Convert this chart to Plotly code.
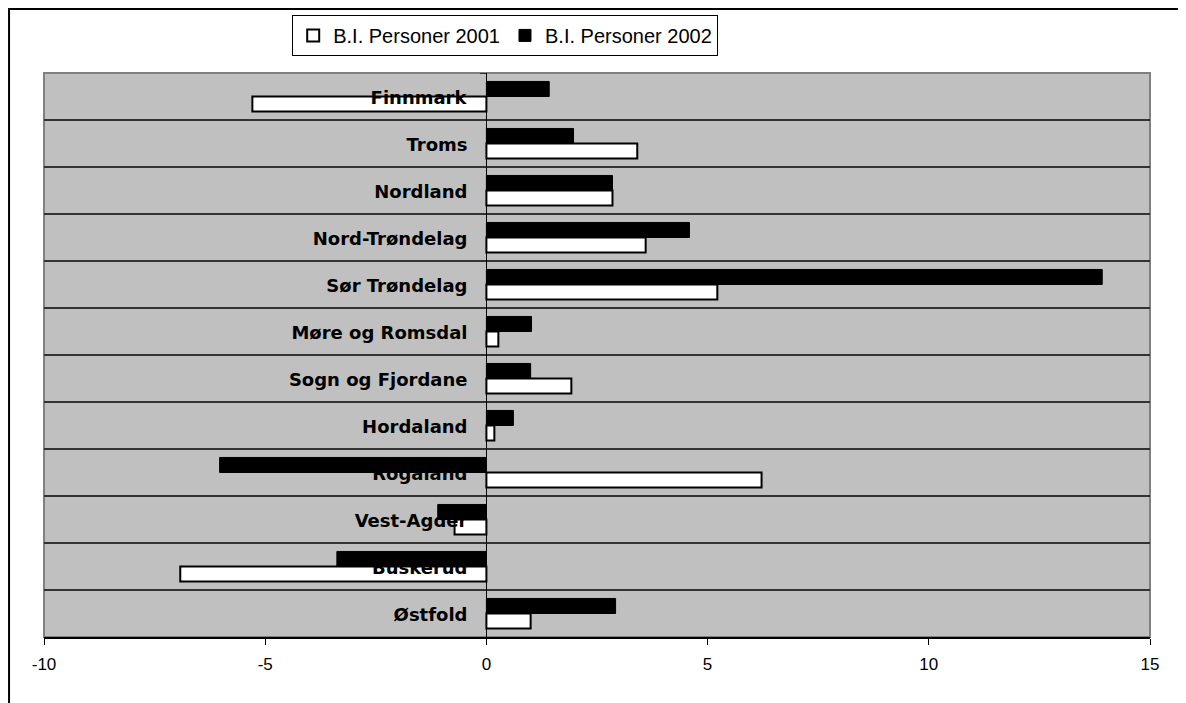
import plotly.graph_objects as go

fylker = ['Østfold', 'Buskerud', 'Vest-Agder', 'Rogaland', 'Hordaland', 'Sogn og Fjordane',
          'Møre og Romsdal', 'Sør Trøndelag', 'Nord-Trøndelag', 'Nordland', 'Troms', 'Finnmark']
personer_2001 = [1.0, -6.92, -0.72, 6.22, 0.18, 1.92, 0.27, 5.22, 3.6, 2.85, 3.41, -5.29]
personer_2002 = [2.92, -3.38, -1.1, -6.03, 0.61, 1.0, 1.02, 13.92, 4.59, 2.85, 1.97, 1.42]
x_ticks = [-10, -5, 0, 5, 10, 15]
x_ticktext = ['-10', '-5', '0', '5', '10', '15']

fig = go.Figure()

# 2001 (hvite stolper) nederst i hver gruppe
fig.add_trace(go.Bar(
  y=fylker, x=personer_2001, orientation='h', name='B.I. Personer 2001',
  width=0.32, offset=-0.32,
  marker=dict(color='white', line=dict(color='black', width=2))
))

# fylkesnavn ved nullinja, tegnet mellom de hvite og svarte stolpene
fig.add_trace(go.Bar(
  y=fylker, x=[-0.36] * len(fylker), orientation='h', showlegend=False,
  width=0.3, offset=-0.17, hoverinfo='skip',
  marker=dict(color='rgba(0,0,0,0)', line=dict(width=0)),
  text=fylker, textposition='outside', constraintext='none', cliponaxis=False,
  textfont=dict(family='DejaVu Sans', size=18, weight='bold', color='black')
))

# 2002 (svarte stolper) øverst i hver gruppe
fig.add_trace(go.Bar(
  y=fylker, x=personer_2002, orientation='h', name='B.I. Personer 2002',
  width=0.32, offset=0,
  marker=dict(color='black', line=dict(color='black', width=1))
))

fig.update_layout(
  width=1178, height=695,
  margin=dict(l=36, r=36, t=65, b=66, autoexpand=False),
  paper_bgcolor='white', plot_bgcolor='#C0C0C0',
  barmode='overlay',
  font=dict(family='Liberation Sans, Arial', color='black'),
  legend=dict(
    orientation='h', x=0.417, xanchor='center', y=1.103, yanchor='top',
    bgcolor='white', bordercolor='black', borderwidth=1,
    font=dict(size=20), itemwidth=30, traceorder='normal'
  )
)

fig.update_xaxes(
  range=[-10, 15], tickvals=x_ticks, ticktext=x_ticktext,
  showgrid=False, zeroline=False,
  showline=True, linecolor='black', linewidth=1.5,
  ticks='outside', ticklen=6, tickcolor='black', ticklabelstandoff=5,
  tickfont=dict(size=17), fixedrange=True
)
fig.update_yaxes(
  type='category', categoryorder='array', categoryarray=fylker,
  range=[-0.5, 11.5], anchor='free', position=0.4,
  showline=True, linecolor='black', linewidth=1,
  ticks='outside', ticklen=6, tickcolor='#333333', tickson='boundaries',
  showgrid=True, gridcolor='#333333', gridwidth=1.5,
  showticklabels=False, layer='below traces', fixedrange=True
)

# ramme rundt plotomraadet
fig.add_shape(type='rect', xref='paper', yref='paper', x0=0, y0=0, x1=1, y1=1,
  line=dict(color='#808080', width=2), layer='below')
# ytre ramme
fig.add_shape(type='rect', xref='paper', yref='paper', x0=-0.0316, y0=-0.3, x1=1.1, y1=1.1135,
  line=dict(color='black', width=2))

fig.write_html('out.html')
